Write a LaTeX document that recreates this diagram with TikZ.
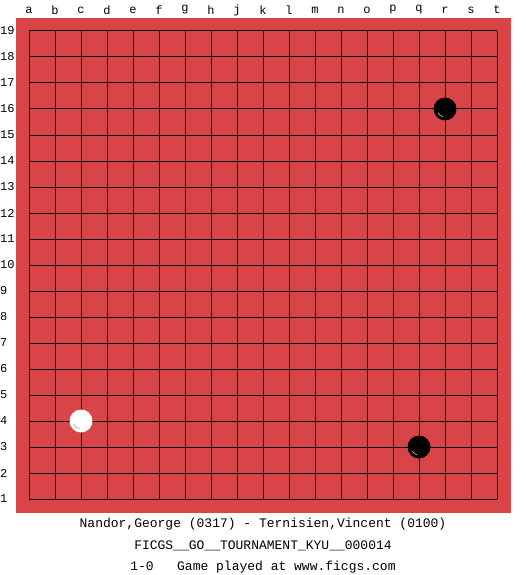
\documentclass[tikz,border=0pt]{standalone}
\usepackage{fontspec}
\setmonofont{Liberation Mono}
\definecolor{board}{RGB}{217,68,72}
\begin{document}
\begin{tikzpicture}[x=1pt,y=-1pt,
  lbl/.style={font=\ttfamily\fontsize{12}{12}\selectfont,inner sep=0pt},
  caption/.style={font=\ttfamily\fontsize{13}{13}\selectfont,inner sep=0pt},
  blackstone/.style={circle,fill=black,minimum size=23pt,inner sep=0pt},
  whitestone/.style={circle,fill=white,minimum size=23pt,inner sep=0pt},
  hl/.style={line width=0.8pt}]
\useasboundingbox (0,0) rectangle (525,575);
\fill[white] (0,0) rectangle (525,575);
\fill[board] (16,18) rectangle (511,513);
\foreach \i in {0,...,18}{
  \draw[black,line width=1pt] (29+26*\i,31) -- (29+26*\i,499);
  \draw[black,line width=1pt] (29,31+26*\i) -- (497,31+26*\i);
}
\foreach \l [count=\i from 0] in {a,b,c,d,e,f,g,h,j,k,l,m,n,o,p,q,r,s,t}{
  \node[lbl] (col\l) at (29+26*\i,10) {\l};
}
\foreach \i in {1,...,19}{
  \node[lbl,anchor=west] (row\i) at (0,31+26*19-26*\i) {\i};
}
\node[blackstone] (r16) at (445,109) {};
\node[blackstone] (q3) at (419,447) {};
\node[whitestone] (c4) at (81,421) {};
\draw[gray!70,hl] (445,109) ++(150:8) arc (150:105:8);
\draw[gray!70,hl] (419,447) ++(150:8) arc (150:105:8);
\draw[gray!60,hl] (81,421) ++(160:8) arc (160:100:8);
\node[caption] (t1) at (263,524) {Nandor,George (0317) - Ternisien,Vincent (0100)};
\node[caption] (t2) at (263,546) {FICGS\_\_GO\_\_TOURNAMENT\_KYU\_\_000014};
\node[caption] (t3) at (263,567) {1-0\ \ \ Game played at www.ficgs.com};
\end{tikzpicture}
\end{document}
